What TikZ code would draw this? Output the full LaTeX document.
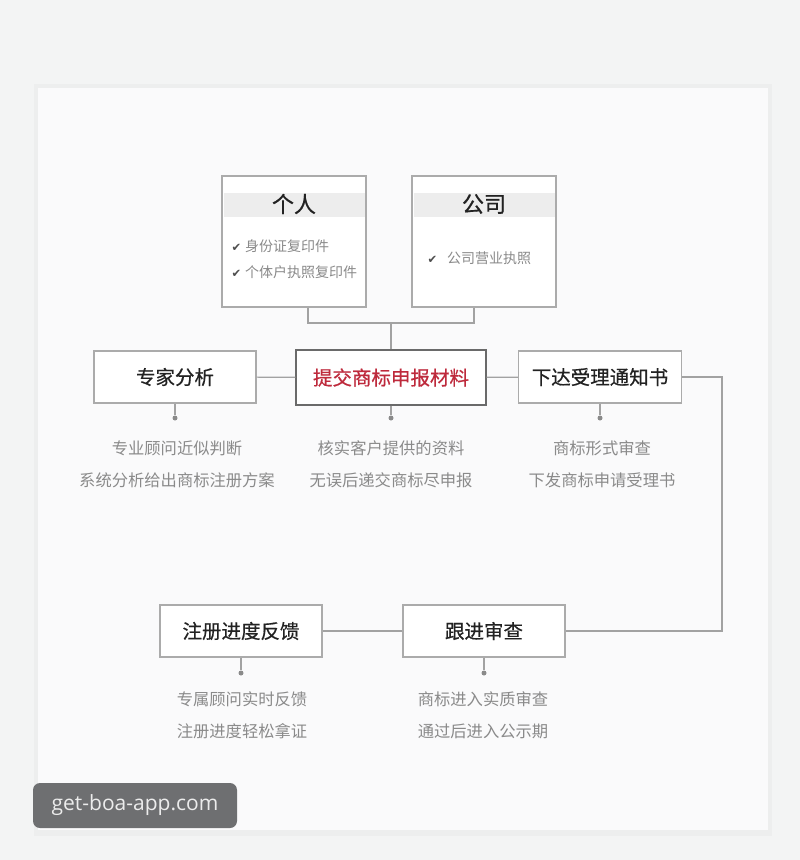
\documentclass[tikz,border=0pt]{standalone}
\usepackage{fontspec}
\setmainfont{Noto Sans CJK SC}
\newfontfamily\titlefont[FakeBold=0.6]{Noto Sans CJK SC}
\newfontfamily\tickfont{DejaVu Sans}
\newfontfamily\wmfont{Open Sans}
\definecolor{pagebg}{HTML}{F3F4F4}
\definecolor{panelbg}{HTML}{FAFAFB}
\definecolor{panelrim}{HTML}{EDEEEE}
\definecolor{boxline}{HTML}{ABABAB}
\definecolor{mainline}{HTML}{6A6A6A}
\definecolor{linkcol}{HTML}{A2A2A2}
\definecolor{titlecol}{HTML}{222222}
\definecolor{redtitle}{HTML}{BE2A3C}
\definecolor{notecol}{HTML}{8A8A8A}
\definecolor{bandcol}{HTML}{EDEDED}
\definecolor{wmbg}{HTML}{6E6F71}
\definecolor{wmtext}{HTML}{ECECEC}
\newcommand{\tick}{{\tickfont\fontsize{11.5}{12}\selectfont\color{titlecol!80}✔}\hspace{4pt}}
\begin{document}
\begin{tikzpicture}[x=1pt,y=-1pt,
  box/.style={draw=boxline,line width=1.2pt,fill=white,minimum height=52pt,inner sep=0pt,
    font=\titlefont\fontsize{19.5}{22}\selectfont,text=titlecol},
  topbox/.style={draw=boxline,line width=1.2pt,fill=white,minimum width=144pt,minimum height=131pt,inner sep=0pt},
  link/.style={draw=linkcol,line width=1.1pt},
  dot/.style={circle,fill=linkcol!85!black,inner sep=0pt,minimum size=5pt},
  note/.style={text=notecol,align=center,font=\fontsize{16.3}{32}\selectfont},
  ticks/.style={anchor=west,align=left,text=notecol,font=\fontsize{14}{26}\selectfont}]
  \useasboundingbox (0,0) rectangle (800,860);
  \fill[pagebg] (0,0) rectangle (800,860);
  \fill[panelrim] (34,84) rectangle (772,836);
  \fill[panelbg] (38,88) rectangle (768,830);

  \node[topbox] (geren) at (294,241.5) {};
  \fill[bandcol] (223.5,193) rectangle (364.5,217);
  \node[font=\titlefont\fontsize{22}{24}\selectfont,text=titlecol] (gerenT) at (294,204) {个人};
  \node[ticks] (gerenL) at (228,259) {\tick 身份证复印件\\\tick 个体户执照复印件};

  \node[topbox] (gongsi) at (484,241.5) {};
  \fill[bandcol] (413.5,193) rectangle (554.5,217);
  \node[font=\titlefont\fontsize{22}{24}\selectfont,text=titlecol] (gongsiT) at (484,204) {公司};
  \node[ticks] (gongsiL) at (424,258) {\tick\hspace{6pt}公司营业执照};

  \node[box,minimum width=162pt] (zhuanjia) at (175,377) {专家分析};
  \node[box,minimum width=190pt,minimum height=55pt,draw=mainline,text=redtitle] (tijiao) at (391,377.5) {提交商标申报材料};
  \node[box,minimum width=163pt] (xiada) at (600,377) {下达受理通知书};
  \node[box,minimum width=162pt] (fankui) at (241,631) {注册进度反馈};
  \node[box,minimum width=162pt] (genjin) at (484,631) {跟进审查};

  \coordinate (jn) at (391,323);
  \coordinate (turn) at (722,377);
  \draw[link] ([xshift=14pt]geren.south) |- (jn) -| ([xshift=-10pt]gongsi.south);
  \draw[link] (jn) -- (tijiao.north);
  \draw[link] (zhuanjia) -- (tijiao);
  \draw[link] (tijiao) -- (xiada);
  \draw[link] (xiada.east) -- (turn) |- (genjin.east);
  \draw[link] (genjin) -- (fankui);

  \node[dot] (d1) at (175,418) {};
  \node[dot] (d2) at (391,418) {};
  \node[dot] (d3) at (600,418) {};
  \node[dot] (d4) at (241,673) {};
  \node[dot] (d5) at (484,673) {};
  \draw[link] (zhuanjia) -- (d1);
  \draw[link] (tijiao) -- (d2);
  \draw[link] (xiada) -- (d3);
  \draw[link] (fankui) -- (d4);
  \draw[link] (genjin) -- (d5);

  \node[note] (n1) at (177,464) {专业顾问近似判断\\系统分析给出商标注册方案};
  \node[note] (n2) at (391,464) {核实客户提供的资料\\无误后递交商标尽申报};
  \node[note] (n3) at (602,464) {商标形式审查\\下发商标申请受理书};
  \node[note] (n4) at (242,715.5) {专属顾问实时反馈\\注册进度轻松拿证};
  \node[note] (n5) at (483,715.5) {商标进入实质审查\\通过后进入公示期};

  \node[fill=wmbg,rounded corners=7pt,minimum width=204pt,minimum height=45pt,
    text=wmtext,font=\wmfont\fontsize{21}{24}\selectfont] (wm) at (135,805.5) {get-boa-app.com};
\end{tikzpicture}
\end{document}
